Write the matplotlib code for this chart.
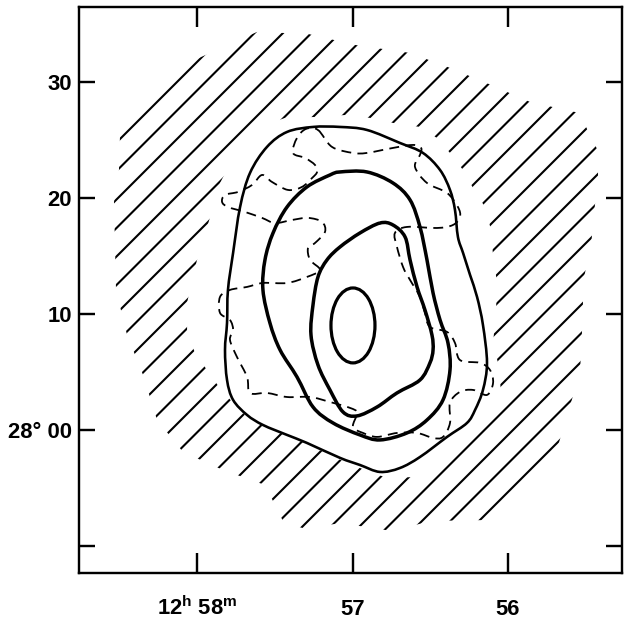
import numpy as np
import matplotlib.pyplot as plt
from matplotlib.path import Path
from matplotlib.patches import PathPatch, Ellipse
from matplotlib.collections import LineCollection
from matplotlib.transforms import Affine2D

DPI = 144
W_PX, H_PX = 625, 622
HATCH_STEP = 28.5   # px between hatch strokes, measured along x
HATCH_PHASE = 259   # x + y (px, from top-left) of one stroke

# RA in minutes of time (12h xx m), Dec in arcmin offset from 28 deg 00'
outer_ra = [57.254, 57.080, 56.907, 56.695, 56.547, 56.437, 56.373, 56.341, 56.322, 56.289,
            56.244, 56.199, 56.161, 56.135, 56.161, 56.212, 56.264, 56.392, 56.566, 56.695,
            56.823, 56.952, 57.080, 57.293, 57.421, 57.576, 57.678, 57.768, 57.807, 57.820,
            57.807, 57.801, 57.768, 57.723, 57.659, 57.550, 57.421]
outer_dec = [26.12, 26.12, 25.86, 24.74, 23.88, 22.41, 20.69, 18.97, 16.64, 15.26,
             13.36, 11.47, 9.05, 5.78, 3.45, 1.72, 0.60, -0.60, -2.33, -3.28,
             -3.62, -3.02, -2.41, -1.12, -0.43, 0.43, 1.29, 2.59, 4.31, 6.90,
             9.22, 12.07, 15.26, 19.22, 22.16, 24.40, 25.69]

mid_ra = [57.080, 56.907, 56.740, 56.630, 56.566, 56.521, 56.482, 56.437, 56.386, 56.373,
          56.418, 56.521, 56.650, 56.823, 56.952, 57.125, 57.254, 57.357, 57.466, 57.531,
          57.576, 57.563, 57.511, 57.421, 57.293, 57.145]
mid_dec = [22.24, 22.24, 21.29, 19.83, 17.50, 14.66, 11.81, 9.48, 7.50, 5.17,
           2.59, 0.86, -0.26, -0.86, -0.43, 0.60, 1.98, 4.57, 6.90, 9.22,
           12.07, 14.66, 16.98, 19.22, 20.95, 21.98]

inner_ra = [56.823, 56.740, 56.662, 56.630, 56.585, 56.534, 56.489, 56.482, 56.502, 56.566,
            56.714, 56.842, 56.971, 57.061, 57.145, 57.222, 57.267, 57.254, 57.222, 57.164,
            57.080, 56.952]
inner_dec = [17.84, 17.67, 16.64, 14.66, 12.33, 10.34, 8.19, 6.90, 5.78, 4.31,
             3.19, 1.98, 1.21, 1.55, 3.45, 5.60, 8.19, 10.78, 13.19, 14.66,
             15.78, 16.98]

# innermost contour, an oval
core_ra, core_dec = 56.997, 9.01
core_w, core_h = 0.283, 6.46

dash_ra = [57.222, 57.132, 56.997, 56.907, 56.740, 56.611, 56.559, 56.566, 56.598, 56.521,
           56.392, 56.322, 56.309, 56.354, 56.457, 56.650, 56.727, 56.714, 56.675, 56.630,
           56.566, 56.534, 56.502, 56.392, 56.341, 56.309, 56.180, 56.116, 56.096, 56.135,
           56.225, 56.309, 56.373, 56.373, 56.418, 56.482, 56.585, 56.714, 56.842, 56.932,
           56.997, 56.971, 57.016, 57.145, 57.273, 57.421, 57.550, 57.659, 57.678, 57.743,
           57.788, 57.768, 57.788, 57.852, 57.852, 57.788, 57.678, 57.576, 57.421, 57.293,
           57.209, 57.273, 57.286, 57.241, 57.177, 57.196, 57.286, 57.389, 57.498, 57.582,
           57.691, 57.801, 57.839, 57.820, 57.736, 57.646, 57.582, 57.518, 57.415, 57.325,
           57.260, 57.228, 57.241, 57.305, 57.383, 57.357, 57.299]
dash_dec = [25.86, 24.40, 23.88, 23.88, 24.31, 24.57, 24.31, 23.71, 22.67, 21.29,
            20.43, 19.22, 18.36, 17.67, 17.41, 17.50, 16.98, 15.78, 14.05, 12.93,
            11.47, 10.09, 8.88, 8.45, 7.50, 6.03, 5.78, 5.17, 4.05, 3.02,
            3.45, 3.28, 2.33, 0.60, -0.60, -0.69, -0.26, -0.26, -0.60, -0.26,
            0.26, 1.47, 1.90, 2.41, 2.84, 2.84, 3.19, 3.19, 4.57, 6.29,
            7.76, 8.62, 9.48, 10.09, 11.47, 12.07, 12.33, 12.67, 12.67, 13.19,
            13.79, 14.66, 15.69, 16.12, 17.07, 17.93, 18.28, 18.10, 17.84, 18.28,
            18.79, 19.22, 19.66, 20.26, 20.52, 21.12, 21.98, 21.38, 20.69, 20.95,
            21.72, 22.24, 22.84, 23.45, 23.88, 25.17, 25.95]

# shaded (hatched) zone: outer edge and inner edge
hatch_out_ra = [58.495, 58.045, 57.614, 57.286, 56.984, 56.630, 56.373, 56.109, 55.859, 55.543,
                55.421, 55.421, 55.447, 55.466, 55.518, 55.518, 55.537, 55.621, 55.698, 56.103,
                56.495, 56.746, 57.080, 57.299, 57.441, 57.563, 57.833, 58.090, 58.257, 58.347,
                58.450, 58.521, 58.534, 58.502]
hatch_out_dec = [25.52, 31.72, 34.31, 34.14, 33.19, 32.50, 31.21, 29.74, 28.28, 27.33,
                 24.05, 21.55, 18.71, 15.86, 12.76, 10.17, 4.91, 1.21, -2.24, -7.76,
                 -7.84, -8.71, -8.02, -8.53, -8.02, -4.74, -3.45, -1.90, 0.86, 4.74,
                 8.19, 12.07, 19.66, 22.41]
hatch_in_ra = [57.434, 57.241, 57.035, 56.887, 56.740, 56.566, 56.457, 56.373, 56.289, 56.225,
               56.148, 56.109, 56.096, 56.071, 56.077, 56.096, 56.058, 56.045, 56.148, 56.373,
               56.579, 56.778, 56.920, 57.048, 57.177, 57.293, 57.434, 57.563, 57.678, 57.768,
               57.859, 57.936, 58.013, 58.064, 58.064, 58.032, 58.000, 57.929, 57.852, 57.775,
               57.659, 57.543]
hatch_in_dec = [26.90, 26.98, 27.16, 26.90, 26.47, 26.12, 25.17, 23.88, 22.41, 20.86,
                19.22, 17.24, 15.00, 12.76, 10.17, 7.50, 5.43, 3.19, 0.86, -1.55,
                -4.05, -4.14, -3.45, -2.76, -1.98, -1.12, -0.43, 0.26, 1.12, 2.33,
                3.71, 5.17, 6.64, 8.45, 10.95, 12.93, 14.66, 17.76, 21.29, 23.28,
                25.17, 26.38]

x_ticks = [58, 57, 56]
x_labels = ['12$^{\\mathregular{h}}$ 58$^{\\mathregular{m}}$', '57', '56']
y_ticks = [-10, 0, 10, 20, 30]
y_labels = ['', '28\u00b0 00', '10', '20', '30']

plt.rcParams['font.family'] = ['Liberation Sans', 'DejaVu Sans']
plt.rcParams['font.weight'] = 'bold'
plt.rcParams['mathtext.fontset'] = 'custom'
plt.rcParams['mathtext.rm'] = 'Liberation Sans'


def ring(ra, dec):
    pts = np.column_stack([ra, dec])
    pts = np.vstack([pts, pts[:1]])
    codes = [Path.MOVETO] + [Path.LINETO] * (len(pts) - 2) + [Path.CLOSEPOLY]
    return pts, codes


def smooth_loop(ra, dec):
    """
    # Closed curve through the traced points, drawn as cubic Bezier pieces
    # (Catmull-Rom handles) so the contour does not look like a polygon.
    """
    p = np.column_stack([ra, dec])
    n = len(p)
    verts = [p[0]]
    codes = [Path.MOVETO]
    for i in range(n):
        p0, p1, p2, p3 = p[i - 1], p[i], p[(i + 1) % n], p[(i + 2) % n]
        verts += [p1 + (p2 - p0) / 6.0, p2 - (p3 - p1) / 6.0, p2]
        codes += [Path.CURVE4] * 3
    return Path(np.array(verts), codes)


def draw_loop(ax, ra, dec, **kw):
    ax.add_patch(PathPatch(smooth_loop(ra, dec), facecolor='none',
                           edgecolor='black', **kw))


fig = plt.figure(figsize=(W_PX / DPI, H_PX / DPI), dpi=DPI)
ax = fig.add_axes([0.1264, 0.0788, 0.8680, 0.9092])

##
# Hatched zone: 45 degree strokes clipped to the ring between the two edges.
##
v1, c1 = ring(hatch_out_ra, hatch_out_dec)
v2, c2 = ring(hatch_in_ra[::-1], hatch_in_dec[::-1])
zone = Path(np.vstack([v1, v2]), c1 + c2)

# pixel frame with origin at top-left, y pointing down
px_frame = Affine2D().scale(1, -1).translate(0, H_PX)
starts = np.arange(HATCH_PHASE - 10 * HATCH_STEP, W_PX + H_PX, HATCH_STEP)
strokes = [[(s, 0), (s - H_PX, H_PX)] for s in starts]
hatch = LineCollection(strokes, colors='black', linewidths=1.05,
                       transform=px_frame, capstyle='round')
ax.add_collection(hatch, autolim=False)
hatch.set_clip_path(zone, ax.transData)

##
# Contours.
##
draw_loop(ax, outer_ra, outer_dec, lw=1.3, joinstyle='round')
draw_loop(ax, mid_ra, mid_dec, lw=1.75, joinstyle='round')
draw_loop(ax, inner_ra, inner_dec, lw=1.75, joinstyle='round')
ax.add_patch(Ellipse((core_ra, core_dec), core_w, core_h, fill=False,
                     edgecolor='black', lw=1.6))
draw_loop(ax, dash_ra, dash_dec, lw=0.9, linestyle=(0, (5.5, 3.5)))

ax.set_xlim(58.759, 55.27)
ax.set_ylim(-12.33, 36.42)

ax.set_xticks(x_ticks)
ax.set_xticklabels(x_labels)
ax.set_yticks(y_ticks)
ax.set_yticklabels(y_labels)
ax.tick_params(axis='x', direction='in', length=10, width=1.2, top=True,
               pad=21, labelsize=11)
ax.tick_params(axis='y', direction='in', length=8, width=1.2, right=True,
               pad=3.5, labelsize=11)
for lbl in ax.get_xticklabels():
    lbl.set_verticalalignment('baseline')
for sp in ax.spines.values():
    sp.set_linewidth(1.2)

fig.savefig('out.png', dpi=DPI)
